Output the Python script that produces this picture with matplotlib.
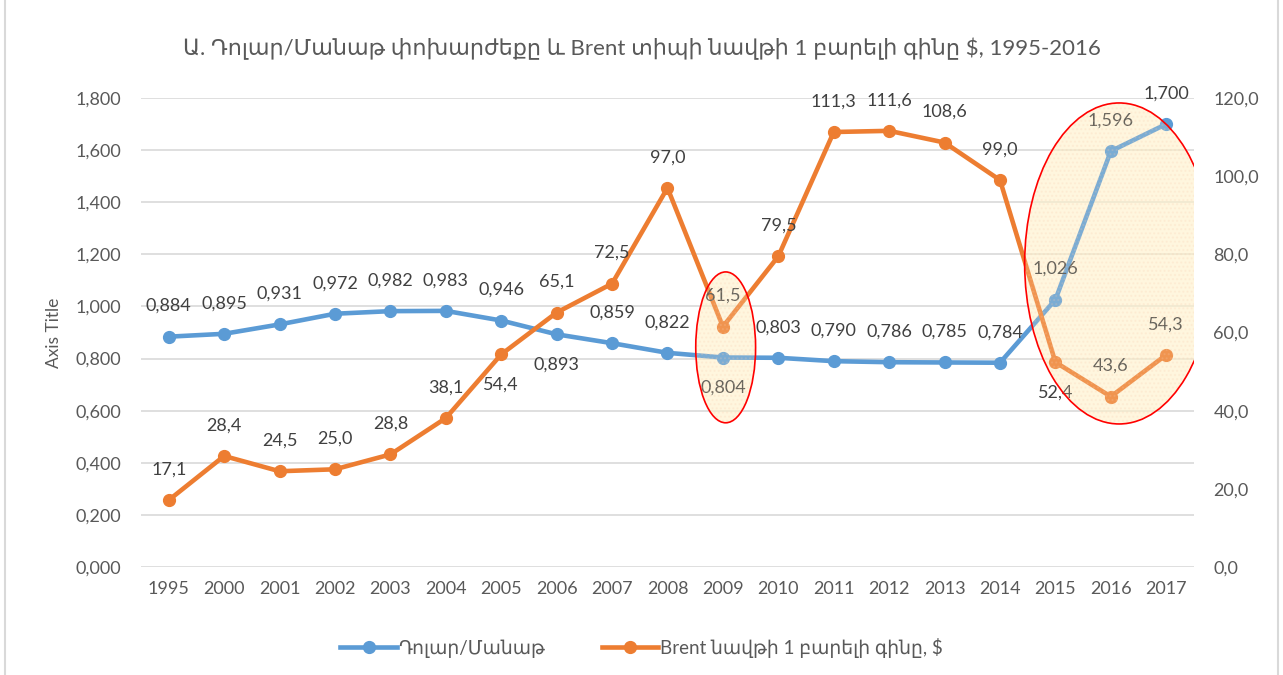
import matplotlib
matplotlib.use("Agg")
import matplotlib.pyplot as plt
from matplotlib.patches import Ellipse, Rectangle
from matplotlib.lines import Line2D
from matplotlib.ticker import FuncFormatter
import numpy as np

plt.rcParams["font.family"] = ["Lato", "DejaVu Sans"]

years = ["1995", "2000", "2001", "2002", "2003", "2004", "2005", "2006",
         "2007", "2008", "2009", "2010", "2011", "2012", "2013", "2014",
         "2015", "2016", "2017"]
usd_azn = [0.884, 0.895, 0.931, 0.972, 0.982, 0.983, 0.946, 0.893, 0.859,
           0.822, 0.804, 0.803, 0.790, 0.786, 0.785, 0.784, 1.026, 1.596,
           1.700]
brent = [17.1, 28.4, 24.5, 25.0, 28.8, 38.1, 54.4, 65.1, 72.5, 97.0, 61.5,
         79.5, 111.3, 111.6, 108.6, 99.0, 52.4, 43.6, 54.3]
# label placement: +1 above the point, -1 below
usd_side = [1, 1, 1, 1, 1, 1, 1, -1, 1, 1, -1, 1, 1, 1, 1, 1, 1, 1, 1]
brent_side = [1, 1, 1, 1, 1, 1, -1, 1, 1, 1, 1, 1, 1, 1, 1, 1, -1, 1, 1]

title = ("Ա. Դոլար/Մանաթ փոխարժեքը և Brent տիպի նավթի 1 բարելի գինը $, "
         "1995-2016")
name_usd = "Դոլար/Մանաթ"
name_brent = "Brent նավթի 1 բարելի գինը, $"

BLUE = "#5B9BD5"
ORANGE = "#ED7D31"
TXT = "#404040"
TICK = "#595959"
GRID = "#D9D9D9"

x = np.arange(len(years))

fig = plt.figure(figsize=(12.83, 6.75), dpi=100)
ax = fig.add_axes([0.1099, 0.16, 0.8207, 0.6948])
ax2 = ax.twinx()
ax2.patch.set_visible(False)

ax.plot(x, usd_azn, color=BLUE, lw=3.3, marker="o", ms=8.5, zorder=3)
ax2.plot(x, brent, color=ORANGE, lw=3.3, marker="o", ms=8.5, zorder=3)

ax.set_xlim(-0.5, len(years) - 0.5)
ax.set_ylim(0, 1.8)
ax2.set_ylim(0, 120)
ax.set_yticks(np.arange(0, 1.81, 0.2))
ax2.set_yticks(np.arange(0, 121, 20))
ax.yaxis.set_major_formatter(FuncFormatter(lambda v, p: f"{v:.3f}".replace(".", ",")))
ax2.yaxis.set_major_formatter(FuncFormatter(lambda v, p: f"{v:.1f}".replace(".", ",")))
ax.set_xticks(x)
ax.set_xticklabels(years)

ax.grid(axis="y", color=GRID, lw=1.2)
ax.set_axisbelow(True)
for a in (ax, ax2):
    for s in a.spines.values():
        s.set_visible(False)
    a.tick_params(length=0, labelsize=13, labelcolor=TICK)
ax.tick_params(axis="x", pad=10)
ax.tick_params(axis="y", pad=14)
ax2.tick_params(axis="y", pad=14)
ax.set_ylabel("Axis Title", fontsize=12.5, color=TICK, labelpad=10)

for xi, v, s in zip(x, usd_azn, usd_side):
    ax.annotate(f"{v:.3f}".replace(".", ","), (xi, v), xytext=(0, 22 * s),
                textcoords="offset points", ha="center", va="center",
                fontsize=13, color=TXT, zorder=4)
for xi, v, s in zip(x, brent, brent_side):
    ax2.annotate(f"{v:.1f}".replace(".", ","), (xi, v), xytext=(0, 22 * s),
                 textcoords="offset points", ha="center", va="center",
                 fontsize=13, color=TXT, zorder=4)

# highlight ellipses: yellow behind the lines, a light dotted veil on top
for cx, cy, w, h in [(10.05, 0.843, 1.08, 0.579), (17.15, 1.165, 3.41, 1.232)]:
    ax.add_patch(Ellipse((cx, cy), w, h, facecolor="#FFF2CC",
                         edgecolor="none", alpha=0.55, zorder=1))
    ax2.add_patch(Ellipse((cx, cy * 100 / 1.5), w, h * 100 / 1.5,
                          facecolor="#FFF2CC", edgecolor="none", alpha=0.2,
                          zorder=5))
    ax2.add_patch(Ellipse((cx, cy * 100 / 1.5), w, h * 100 / 1.5,
                          facecolor="none", edgecolor="#F8CBAD", hatch="....",
                          lw=0, alpha=0.2, zorder=5))
    ax2.add_patch(Ellipse((cx, cy * 100 / 1.5), w, h * 100 / 1.5,
                          facecolor="none", edgecolor="red", lw=1.2,
                          zorder=6))

fig.text(0.5, 0.928, title, ha="center", va="center", fontsize=16,
         color=TICK)

handles = [Line2D([], [], color=BLUE, lw=3.3, marker="o", ms=8.5),
           Line2D([], [], color=ORANGE, lw=3.3, marker="o", ms=8.5)]
fig.legend(handles, [name_usd, name_brent], loc="center",
           bbox_to_anchor=(0.5, 0.04), ncol=2, frameon=False, fontsize=13.5,
           labelcolor=TICK, handlelength=3.0, handletextpad=0.1,
           columnspacing=3.0)

fig.add_artist(Rectangle((0.004, -0.01), 0.992, 1.2, transform=fig.transFigure,
                         fill=False, edgecolor=GRID, lw=1.5))

fig.savefig("out.png", dpi=100)
